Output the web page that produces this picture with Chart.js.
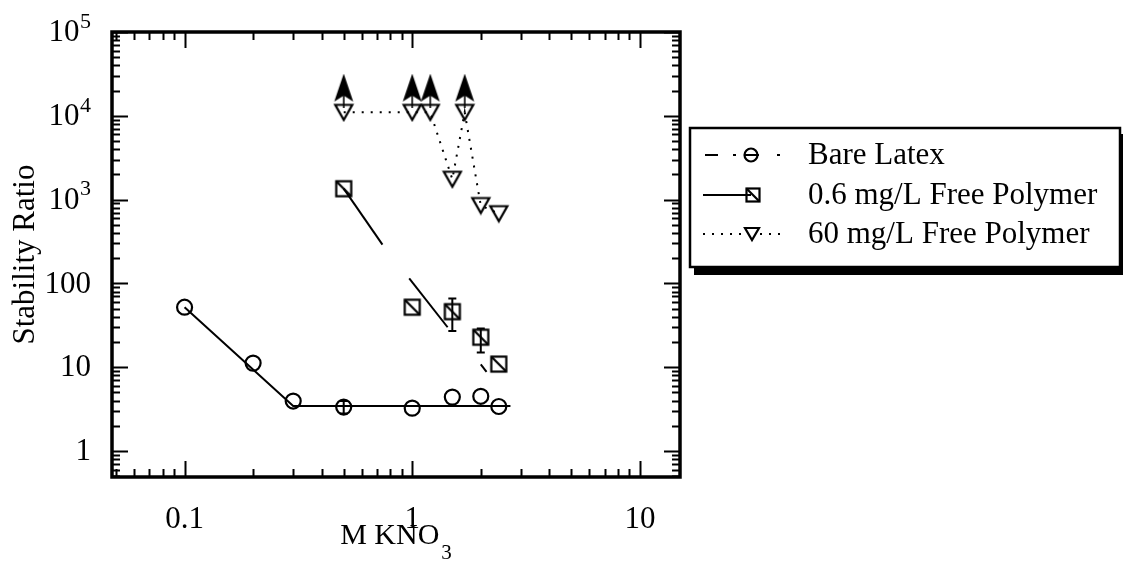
<!DOCTYPE html>
<html>
<head>
<meta charset="utf-8">
<script src="https://cdn.jsdelivr.net/npm/chart.js@4/dist/chart.umd.min.js"></script>
<style>
  html, body { margin: 0; padding: 0; background: #fff; }
  #wrap { width: 1123px; height: 562px; position: relative; }
</style>
</head>
<body>
<div id="wrap"><canvas id="c" width="1123" height="562"></canvas></div>
<script>
// Stability ratio vs. KNO3 concentration (M)

// Bare latex
const bareX = [0.1, 0.2, 0.3, 0.5, 1.0, 1.5, 2.0, 2.4];
const bareY = [52, 11.2, 3.95, 3.35, 3.25, 4.4, 4.5, 3.4];
const bareErrX = [0.5];
const bareErrLo = [2.8];
const bareErrHi = [3.95];
const bareFitX = [0.1, 0.3, 2.7];
const bareFitY = [52, 3.45, 3.45];

// 0.6 mg/L free polymer
const lowPolyX = [0.5, 1.0, 1.5, 2.0, 2.4];
const lowPolyY = [1350, 52, 46, 22.8, 10.9];
const lowPolyErrX = [1.5, 2.0];
const lowPolyErrLo = [27, 15];
const lowPolyErrHi = [66, 29];
const lowPolyFitAX = [0.5, 0.74];
const lowPolyFitAY = [1350, 290];
const lowPolyFitBX = [0.97, 1.43];
const lowPolyFitBY = [115, 30];
const lowPolyFitCX = [2.0, 2.12];
const lowPolyFitCY = [10.8, 8.8];

// 60 mg/L free polymer
const highPolyX = [0.5, 1.0, 1.2, 1.5, 1.7, 2.0, 2.4];
const highPolyY = [11000, 11000, 11000, 1750, 11000, 850, 680];
// points whose ratio is a lower bound (arrow marks)
const arrowX = [0.5, 1.0, 1.2, 1.7];
const arrowY = [20000, 20000, 20000, 20000];

// Axes
const xMin = 0.048, xMax = 15;
const yMin = 0.49, yMax = 1e5;
const xTickValues = [0.1, 1, 10];
const xTickLabels = ['0.1', '1', '10'];
const yTickValues = [1, 10, 100, 1e3, 1e4, 1e5];
const yTickBase = ['1', '10', '100', '10', '10', '10'];
const yTickExp = ['', '', '', '3', '4', '5'];

const seriesNames = ['Bare Latex', '0.6 mg/L Free Polymer', '60 mg/L Free Polymer'];

const FONT = '"Liberation Serif", "Times New Roman", Times, serif';
const INK = '#000';
const STROKE = 2.2;

function pts(xs, ys) { return xs.map((x, i) => ({ x: x, y: ys[i] })); }

// ---- marker drawing helpers ----
function drawSquareMark(ctx, cx, cy, s) {
  ctx.save();
  ctx.strokeStyle = INK; ctx.lineWidth = STROKE;
  ctx.strokeRect(cx - s / 2, cy - s / 2, s, s);
  ctx.beginPath();
  ctx.moveTo(cx - s / 2, cy - s / 2);
  ctx.lineTo(cx + s / 2, cy + s / 2);
  ctx.stroke();
  ctx.restore();
}
function drawTriDown(ctx, cx, cy, w, h) {
  ctx.save();
  ctx.strokeStyle = INK; ctx.lineWidth = STROKE; ctx.lineJoin = 'miter';
  ctx.beginPath();
  ctx.moveTo(cx - w / 2, cy - h / 2);
  ctx.lineTo(cx + w / 2, cy - h / 2);
  ctx.lineTo(cx, cy + h / 2);
  ctx.closePath();
  ctx.stroke();
  ctx.restore();
}
function drawCircleMark(ctx, cx, cy, r) {
  ctx.save();
  ctx.strokeStyle = INK; ctx.lineWidth = STROKE;
  ctx.beginPath(); ctx.arc(cx, cy, r, 0, Math.PI * 2); ctx.stroke();
  ctx.restore();
}

function makeCanvas(w, h, fn) {
  const c = document.createElement('canvas');
  c.width = w; c.height = h;
  fn(c.getContext('2d'));
  return c;
}
const squareStyle = makeCanvas(20, 20, ctx => drawSquareMark(ctx, 10, 10, 15));
const triStyle = makeCanvas(22, 20, ctx => drawTriDown(ctx, 11, 10, 17, 15));
// upward arrowhead with a short stem
const arrowStyle = makeCanvas(22, 34, ctx => {
  ctx.fillStyle = INK;
  ctx.beginPath();
  ctx.moveTo(11, 0);
  ctx.lineTo(20.5, 28);
  ctx.lineTo(11, 22);
  ctx.lineTo(1.5, 28);
  ctx.closePath();
  ctx.fill();
  ctx.strokeStyle = INK; ctx.lineWidth = 1.6;
  ctx.beginPath(); ctx.moveTo(11, 20); ctx.lineTo(11, 34); ctx.stroke();
});

function lineSet(data, dash) {
  return {
    data: data, showLine: true, pointRadius: 0, borderColor: INK,
    borderWidth: 2, borderDash: dash || [], fill: false, tension: 0
  };
}

// ---- frame, inward ticks, error bars, labels, legend ----
const decorPlugin = {
  id: 'decor',
  afterDatasetsDraw(chart) {
    const ctx = chart.ctx;
    const a = chart.chartArea;
    const xs = chart.scales.x, ys = chart.scales.y;

    // error bars
    ctx.save();
    ctx.strokeStyle = INK; ctx.lineWidth = 2;
    const bars = [];
    bareErrX.forEach((x, i) => bars.push([x, bareErrLo[i], bareErrHi[i]]));
    lowPolyErrX.forEach((x, i) => bars.push([x, lowPolyErrLo[i], lowPolyErrHi[i]]));
    bars.forEach(b => {
      const px = xs.getPixelForValue(b[0]);
      const p1 = ys.getPixelForValue(b[1]), p2 = ys.getPixelForValue(b[2]);
      ctx.beginPath();
      ctx.moveTo(px, p1); ctx.lineTo(px, p2);
      ctx.moveTo(px - 4, p1); ctx.lineTo(px + 4, p1);
      ctx.moveTo(px - 4, p2); ctx.lineTo(px + 4, p2);
      ctx.stroke();
    });
    ctx.restore();

    // inward tick marks on all four sides
    ctx.save();
    ctx.strokeStyle = INK; ctx.lineWidth = 2;
    const major = 16, minor = 8;
    for (let e = -2; e <= 1; e++) {
      for (let m = 1; m <= 9; m++) {
        const v = m * Math.pow(10, e);
        if (v < xMin || v > xMax) continue;
        const px = Math.round(xs.getPixelForValue(v)) + 0.5;
        const L = m === 1 ? major : minor;
        ctx.beginPath();
        ctx.moveTo(px, a.bottom); ctx.lineTo(px, a.bottom - L);
        ctx.moveTo(px, a.top); ctx.lineTo(px, a.top + L);
        ctx.stroke();
      }
    }
    for (let e = -1; e <= 5; e++) {
      for (let m = 1; m <= 9; m++) {
        const v = m * Math.pow(10, e);
        if (v < yMin || v > yMax) continue;
        const py = Math.round(ys.getPixelForValue(v)) + 0.5;
        const L = m === 1 ? major : minor;
        ctx.beginPath();
        ctx.moveTo(a.left, py); ctx.lineTo(a.left + L, py);
        ctx.moveTo(a.right, py); ctx.lineTo(a.right - L, py);
        ctx.stroke();
      }
    }
    // frame
    ctx.lineWidth = 3.5;
    ctx.strokeRect(a.left, a.top, a.right - a.left, a.bottom - a.top);
    ctx.restore();

    // y tick labels (powers of ten with raised exponents)
    ctx.save();
    ctx.fillStyle = INK;
    ctx.textBaseline = 'middle';
    ctx.textAlign = 'right';
    const labelRight = a.left - 21;
    yTickValues.forEach((v, i) => {
      const py = ys.getPixelForValue(v);
      let right = labelRight;
      if (yTickExp[i]) {
        ctx.font = '22px ' + FONT;
        ctx.fillText(yTickExp[i], right, py - 10);
        right -= ctx.measureText(yTickExp[i]).width + 0.5;
      }
      ctx.font = '31px ' + FONT;
      ctx.fillText(yTickBase[i], right, py + 1);
    });
    ctx.restore();

    // x axis title with subscript
    ctx.save();
    ctx.fillStyle = INK;
    ctx.textBaseline = 'alphabetic';
    ctx.textAlign = 'left';
    ctx.font = '30px ' + FONT;
    const main = 'M KNO';
    const wMain = ctx.measureText(main).width;
    ctx.font = '21px ' + FONT;
    const wSub = ctx.measureText('3').width;
    const cx = (a.left + a.right) / 2;
    const x0 = cx - (wMain + wSub + 2) / 2;
    ctx.font = '30px ' + FONT;
    ctx.fillText(main, x0, 544);
    ctx.font = '21px ' + FONT;
    ctx.fillText('3', x0 + wMain + 2, 559);
    ctx.restore();

    // legend box with drop shadow
    ctx.save();
    const bx = 690, by = 128, bw = 430, bh = 139;
    ctx.fillStyle = INK;
    ctx.fillRect(bx + 4, by + bh, bw + 4, 8);
    ctx.fillRect(bx + bw, by + 6, 8, bh + 2);
    ctx.fillStyle = '#fff';
    ctx.fillRect(bx, by, bw, bh);
    ctx.strokeStyle = INK; ctx.lineWidth = 2.5;
    ctx.strokeRect(bx, by, bw, bh);

    const rows = [155, 195, 234];
    const symX = 751;
    // row 1: dash-dot sample with circle
    ctx.lineWidth = 2;
    ctx.beginPath();
    ctx.moveTo(705, rows[0]); ctx.lineTo(718, rows[0]);
    ctx.moveTo(733, rows[0]); ctx.lineTo(736, rows[0]);
    ctx.moveTo(symX - 6, rows[0]); ctx.lineTo(symX + 8, rows[0]);
    ctx.moveTo(777, rows[0]); ctx.lineTo(780, rows[0]);
    ctx.stroke();
    drawCircleMark(ctx, symX, rows[0], 6.5);
    // row 2: solid sample with square
    ctx.beginPath();
    ctx.moveTo(703, rows[1]); ctx.lineTo(symX, rows[1]);
    ctx.stroke();
    drawSquareMark(ctx, symX + 2, rows[1], 13);
    // row 3: dotted sample with triangle
    ctx.setLineDash([2, 7]);
    ctx.beginPath();
    ctx.moveTo(703, rows[2]); ctx.lineTo(742, rows[2]);
    ctx.moveTo(760, rows[2]); ctx.lineTo(780, rows[2]);
    ctx.stroke();
    ctx.setLineDash([]);
    drawTriDown(ctx, symX + 1, rows[2], 14, 12);

    ctx.fillStyle = INK;
    ctx.font = '31px ' + FONT;
    ctx.textAlign = 'left';
    ctx.textBaseline = 'middle';
    seriesNames.forEach((t, i) => ctx.fillText(t, 808, rows[i] + 1));
    ctx.restore();
  }
};

new Chart(document.getElementById('c'), {
  type: 'scatter',
  data: {
    datasets: [
      lineSet(pts(bareFitX, bareFitY)),
      lineSet(pts(lowPolyFitAX, lowPolyFitAY)),
      lineSet(pts(lowPolyFitBX, lowPolyFitBY)),
      lineSet(pts(lowPolyFitCX, lowPolyFitCY)),
      {
        label: seriesNames[2], data: pts(highPolyX, highPolyY), showLine: true,
        borderColor: INK, borderWidth: 2, borderDash: [2, 7], tension: 0,
        pointStyle: triStyle, pointRadius: 9
      },
      {
        label: seriesNames[0], data: pts(bareX, bareY),
        pointStyle: 'circle', pointRadius: 7.5, borderWidth: STROKE,
        borderColor: INK, backgroundColor: 'rgba(0,0,0,0)'
      },
      {
        label: seriesNames[1], data: pts(lowPolyX, lowPolyY),
        pointStyle: squareStyle, pointRadius: 9
      },
      {
        data: pts(arrowX, arrowY), pointStyle: arrowStyle, pointRadius: 10
      }
    ]
  },
  options: {
    responsive: false,
    animation: false,
    devicePixelRatio: 1,
    events: [],
    layout: { padding: { left: 0, top: 32, right: 443, bottom: 0 } },
    plugins: { legend: { display: false }, tooltip: { enabled: false } },
    scales: {
      x: {
        type: 'logarithmic', min: xMin, max: xMax,
        grid: { display: false }, border: { display: false },
        afterBuildTicks: s => { s.ticks = xTickValues.map(v => ({ value: v })); },
        afterFit: s => { s.height = 85; },
        ticks: {
          autoSkip: false, maxRotation: 0, padding: 16, color: INK,
          font: { family: FONT, size: 31 },
          callback: (v, i) => xTickLabels[i]
        }
      },
      y: {
        type: 'logarithmic', min: yMin, max: yMax,
        grid: { display: false }, border: { display: false },
        afterBuildTicks: s => { s.ticks = yTickValues.map(v => ({ value: v })); },
        afterFit: s => { s.width = 112; },
        ticks: { display: false },
        title: {
          display: true, text: 'Stability Ratio', color: INK,
          font: { family: FONT, size: 31, lineHeight: 1 },
          padding: { top: 10, bottom: 0 }
        }
      }
    }
  },
  plugins: [decorPlugin]
});
</script>
</body>
</html>
